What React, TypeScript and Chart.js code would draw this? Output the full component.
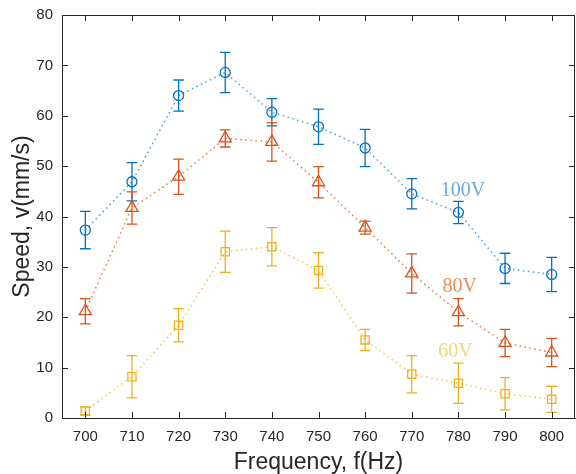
import React, { useEffect, useRef } from "react";
import { Chart, registerables } from "chart.js";

Chart.register(...registerables);

const frequencies = [700, 710, 720, 730, 740, 750, 760, 770, 780, 790, 800];
const speed100 = [37.3, 46.9, 64.0, 68.6, 60.7, 57.8, 53.6, 44.5, 40.8, 29.7, 28.5];
const err100 = [3.7, 3.8, 3.1, 4.0, 2.7, 3.5, 3.7, 3.0, 2.2, 3.0, 3.4];
const speed80 = [21.2, 41.7, 47.9, 55.5, 54.8, 46.8, 37.8, 28.7, 21.0, 14.9, 13.0];
const err80 = [2.5, 3.2, 3.5, 1.7, 3.8, 3.1, 1.3, 3.9, 2.7, 2.7, 2.8];
const speed60 = [1.4, 8.2, 18.4, 33.0, 34.0, 29.3, 15.5, 8.7, 6.9, 4.8, 3.7];
const err60 = [0.8, 4.2, 3.3, 4.1, 3.8, 3.5, 2.1, 3.7, 4.0, 3.2, 2.6];
const seriesLabels = ["100V", "80V", "60V"];
const yTicks = [0, 10, 20, 30, 40, 50, 60, 70, 80];

const AXIS = "#262626";
const SANS = "'Liberation Sans', Arial, sans-serif";

const errorBars = {
  id: "errorBars",
  afterDatasetsDraw(chart: any) {
    const { ctx, scales } = chart;
    const x = scales.x;
    const y = scales.y;
    chart.data.datasets.forEach((ds: any, di: number) => {
      if (!chart.isDatasetVisible(di)) return;
      ctx.save();
      ctx.strokeStyle = ds.pointBorderColor;
      ctx.lineWidth = 1.3;
      ctx.beginPath();
      ds.data.forEach((pt: any, i: number) => {
        const e = ds.errors[i];
        const px = x.getPixelForValue(pt.x);
        const yTop = y.getPixelForValue(pt.y + e);
        const yBot = y.getPixelForValue(pt.y - e);
        const cap = 5.3;
        ctx.moveTo(px, yTop);
        ctx.lineTo(px, yBot);
        ctx.moveTo(px - cap, yTop);
        ctx.lineTo(px + cap, yTop);
        ctx.moveTo(px - cap, yBot);
        ctx.lineTo(px + cap, yBot);
      });
      ctx.stroke();
      if (ds.labelAt) {
        ctx.fillStyle = ds.labelColor;
        ctx.font = "20px 'Liberation Serif', 'Times New Roman', serif";
        ctx.textAlign = "left";
        ctx.textBaseline = "middle";
        ctx.fillText(ds.label, x.getPixelForValue(ds.labelAt.x), y.getPixelForValue(ds.labelAt.y));
      }
      ctx.restore();
    });
  },
};

const frame = {
  id: "frame",
  afterDraw(chart: any) {
    const { ctx, chartArea, scales } = chart;
    const { left, right, top, bottom } = chartArea;
    const x = scales.x;
    const y = scales.y;
    const tl = 6;
    ctx.save();
    ctx.strokeStyle = AXIS;
    ctx.lineWidth = 1;
    ctx.beginPath();
    ctx.moveTo(left, Math.round(top) + 0.5);
    ctx.lineTo(right, Math.round(top) + 0.5);
    ctx.moveTo(Math.round(right) - 0.5, top);
    ctx.lineTo(Math.round(right) - 0.5, bottom);
    x.ticks.forEach((t: any) => {
      const px = Math.round(x.getPixelForValue(t.value)) + 0.5;
      ctx.moveTo(px, bottom);
      ctx.lineTo(px, bottom - tl);
      ctx.moveTo(px, top);
      ctx.lineTo(px, top + tl);
    });
    y.ticks.forEach((t: any) => {
      const py = Math.round(y.getPixelForValue(t.value)) + 0.5;
      ctx.moveTo(left, py);
      ctx.lineTo(left + tl, py);
      ctx.moveTo(right, py);
      ctx.lineTo(right - tl, py);
    });
    ctx.stroke();
    ctx.restore();
  },
};

function makeSeries(
  label: string,
  values: number[],
  errors: number[],
  color: string,
  lineColor: string,
  labelColor: string,
  pointStyle: string,
  radius: number,
  labelAt: { x: number; y: number }
) {
  return {
    label,
    data: frequencies.map((f, i) => ({ x: f, y: values[i] })),
    errors,
    labelAt,
    labelColor,
    showLine: true,
    borderColor: lineColor,
    borderWidth: 1.5,
    borderDash: [1.5, 3.5],
    tension: 0,
    pointStyle,
    pointRadius: radius,
    pointBorderWidth: 1.3,
    pointBorderColor: color,
    pointBackgroundColor: "rgba(0,0,0,0)",
    clip: false,
  };
}

export default function App() {
  const ref = useRef<HTMLCanvasElement>(null);

  useEffect(() => {
    if (!ref.current) return;
    const chart = new Chart(ref.current, {
      type: "scatter",
      data: {
        datasets: [
          makeSeries(seriesLabels[0], speed100, err100, "#0072BD", "#4a9bd6", "#6AAADA", "circle", 5, { x: 776.2, y: 45.1 }),
          makeSeries(seriesLabels[1], speed80, err80, "#D95319", "#e57a48", "#EC8A55", "triangle", 7, { x: 776.6, y: 26.1 }),
          makeSeries(seriesLabels[2], speed60, err60, "#EDB120", "#f2c555", "#F6D27A", "rect", 5.8, { x: 775.7, y: 13.2 }),
        ] as any,
      },
      options: {
        responsive: false,
        maintainAspectRatio: false,
        animation: false,
        layout: { autoPadding: false, padding: { top: 15, right: 1, left: 0, bottom: 0 } },
        plugins: {
          legend: { display: false },
          tooltip: { enabled: false },
        },
        scales: {
          x: {
            type: "linear",
            min: 695,
            max: 805,
            afterBuildTicks: (s: any) => {
              s.ticks = frequencies.map((v) => ({ value: v }));
            },
            afterFit: (s: any) => {
              s.height = 56;
              s.paddingLeft = 0;
              s.paddingRight = 0;
            },
            grid: { display: false, drawTicks: false },
            border: { display: true, color: AXIS, width: 1 },
            ticks: {
              color: AXIS,
              font: { family: SANS, size: 15 },
              padding: 10,
              maxRotation: 0,
              autoSkip: false,
              callback: (v: any) => String(v),
            },
            title: {
              display: true,
              text: "Frequency, f(Hz)",
              color: AXIS,
              font: { family: SANS, size: 23, lineHeight: 1 },
              padding: { top: 0, bottom: 0 },
            },
          },
          y: {
            type: "linear",
            min: 0,
            max: 80,
            afterBuildTicks: (s: any) => {
              s.ticks = yTicks.map((v) => ({ value: v }));
            },
            afterFit: (s: any) => {
              s.width = 62;
              s.paddingTop = 0;
              s.paddingBottom = 0;
            },
            grid: { display: false, drawTicks: false },
            border: { display: true, color: AXIS, width: 1 },
            ticks: {
              color: AXIS,
              font: { family: SANS, size: 15 },
              padding: 9,
              callback: (v: any) => String(v),
            },
            title: {
              display: true,
              text: "Speed, v(mm/s)",
              color: AXIS,
              font: { family: SANS, size: 23, lineHeight: 1 },
              padding: { top: 11, bottom: 0 },
            },
          },
        },
      },
      plugins: [errorBars, frame],
    } as any);
    return () => chart.destroy();
  }, []);

  return (
    <div style={{ position: "absolute", left: 0, top: 0, width: 576, height: 474 }}>
      <canvas ref={ref} width={576} height={474} style={{ display: "block" }} />
    </div>
  );
}
